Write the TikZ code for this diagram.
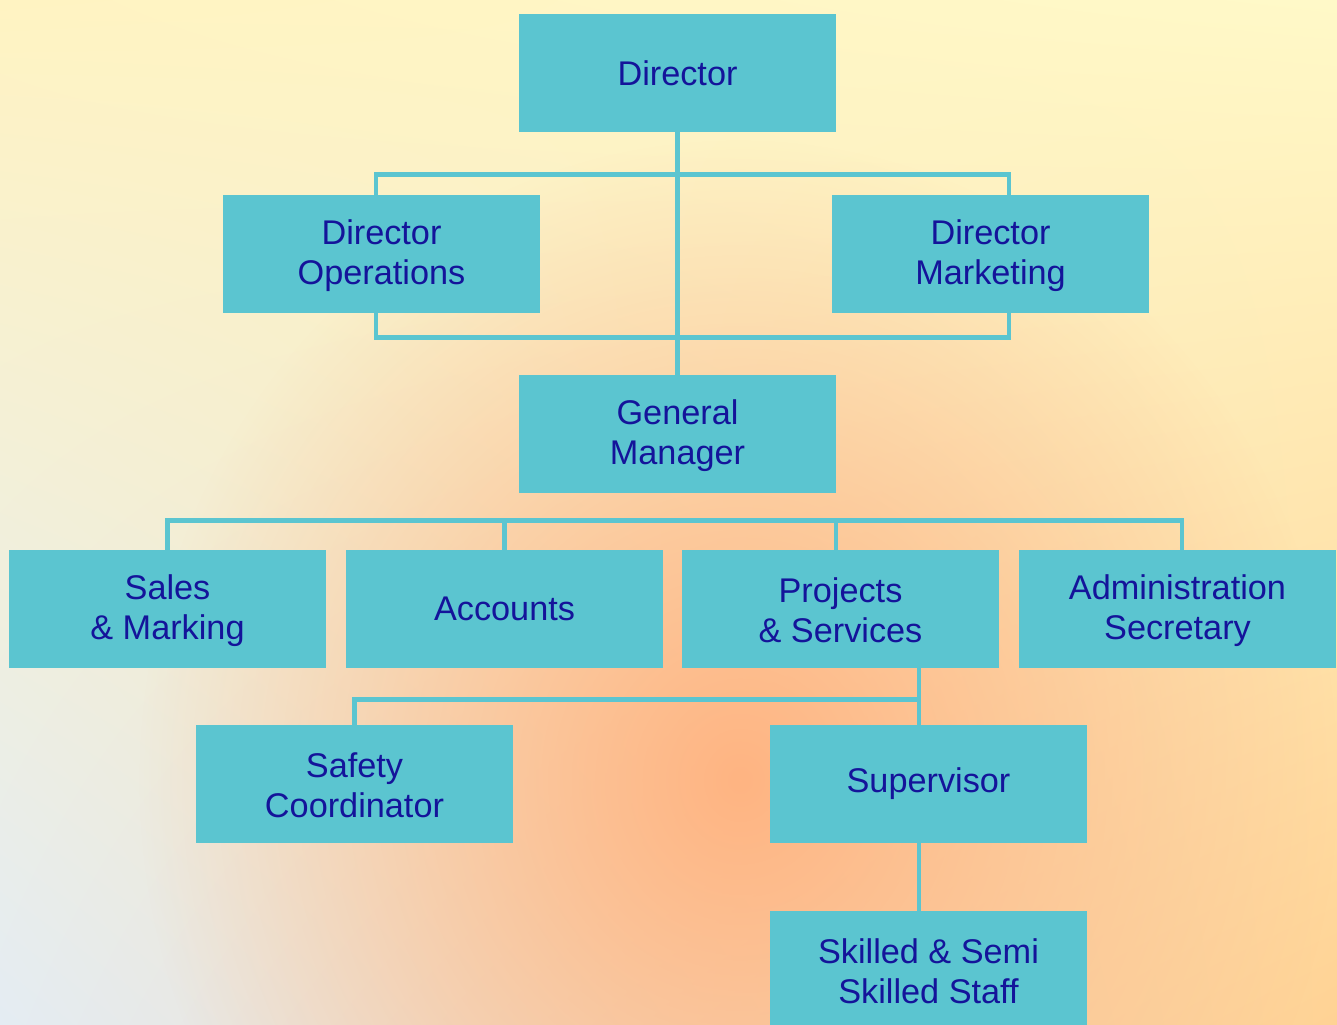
\documentclass[tikz,border=0pt]{standalone}
\usepackage{fontspec}
\setmainfont{Liberation Sans}
\usetikzlibrary{fadings,shadings}

\definecolor{boxfill}{HTML}{5BC5D0}
\definecolor{boxtext}{HTML}{14149A}
\definecolor{bgtl}{HTML}{FFF3C2}
\definecolor{bgtr}{HTML}{FFF9C8}
\definecolor{bgbl}{HTML}{E4ECF3}
\definecolor{bgbr}{HTML}{FFD294}
\definecolor{bgorange}{HTML}{FFB482}

\tikzfading[name=blob, inner color=transparent!0, outer color=transparent!100]

\begin{document}
\begin{tikzpicture}[x=0.02cm, y=-0.02cm,
    post/.style={rectangle, fill=boxfill, text=boxtext, minimum width=6.34cm,
      minimum height=2.36cm, inner sep=0pt, align=center,
      font=\fontsize{19.5}{22.5}\selectfont},
    link/.style={draw=boxfill, line width=0.09cm}]

  % Page size and background
  \useasboundingbox (0,0) rectangle (1337,1024);
  \clip (0,0) rectangle (1337,1024);
  \shade[upper left=bgtl, upper right=bgtr, lower left=bgbl, lower right=bgbr]
    (0,0) rectangle (1337,1024);
  \fill[bgorange, path fading=blob] (740,780) ellipse (600 and 640);

  % Top management
  \node[post] (dir) at (677.5,73) {Director};
  \node[post] (ops) at (381.5,254) {\strut Director\\Operations};
  \node[post] (mkt) at (990.5,254) {\strut Director\\Marketing};
  \node[post] (gm)  at (677.5,434) {\strut General\\Manager};

  % Departments
  \node[post] (sales) at (167.5,609)  {\strut Sales\\\& Marking};
  \node[post] (acc)   at (504.5,609)  {Accounts};
  \node[post] (proj)  at (840.5,609)  {\strut Projects\\\& Services};
  \node[post] (admin) at (1177.5,609) {\strut Administration\\Secretary};

  % Site staff
  \node[post] (safety) at (354.5,784) {\strut Safety\\Coordinator};
  \node[post] (sup)    at (928.5,784) {Supervisor};
  \node[post] (staff)  at (928.5,970) {\strut Skilled \& Semi\\Skilled Staff};

  % Connectors
  \coordinate (spine) at (919,0);
  \draw[link] (dir) -- (gm);
  \draw[link] ([xshift=-0.11cm]ops.north) -- ++(0,-20) -| ([xshift=0.37cm]mkt.north);
  \draw[link] ([xshift=-0.11cm]ops.south) -- ++(0,24) -| ([xshift=0.37cm]mkt.south);
  \draw[link] (sales.north) -- ++(0,-29) -| ([xshift=0.09cm]admin.north);
  \draw[link] (acc.north) -- ++(0,-29);
  \draw[link] ([xshift=-0.09cm]proj.north) -- ++(0,-29);
  \draw[link] (proj.south -| spine) -- (sup.north -| spine);
  \draw[link] (safety.north) -- ++(0,-25) -| (sup.north -| spine);
  \draw[link] (sup.south -| spine) -- (staff.north -| spine);

\end{tikzpicture}
\end{document}
